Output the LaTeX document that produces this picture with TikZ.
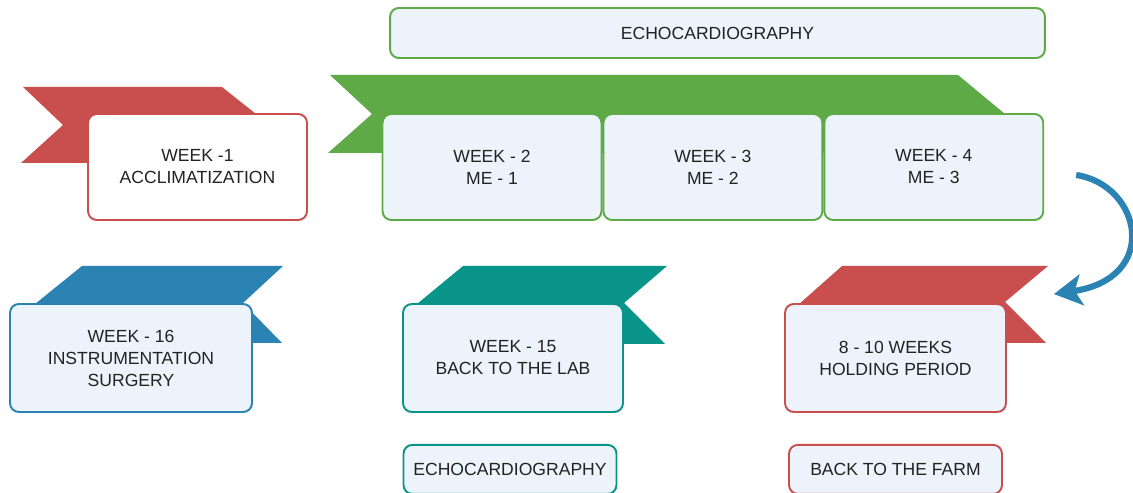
\documentclass[tikz,border=0pt]{standalone}
\usepackage{fontspec}
\setmainfont{Liberation Sans}
\usetikzlibrary{positioning,calc,arrows.meta}

\definecolor{ribred}{RGB}{201,79,79}
\definecolor{ribgreen}{RGB}{94,170,70}
\definecolor{ribblue}{RGB}{42,131,178}
\definecolor{ribteal}{RGB}{9,148,138}
\definecolor{boxfill}{RGB}{236,243,251}
\definecolor{txt}{RGB}{34,34,34}

\begin{document}
\begin{tikzpicture}[x=0.02cm, y=-0.02cm,
  box/.style={draw, line width=1.1pt, rounded corners=5pt, fill=boxfill, text=txt,
    align=center, inner sep=0pt, font=\fontsize{10}{12.5}\selectfont},
  weekbox/.style={box, minimum width=4.38cm, minimum height=2.12cm},
  lowbox/.style={box, minimum width=4.4cm, minimum height=2.16cm},
  tagbox/.style={box, minimum width=4.26cm, minimum height=0.98cm},
  arrowline/.style={draw=ribblue, line width=3.5pt,
    -{Stealth[length=0.56cm, width=0.62cm, inset=0.14cm]}}]
  \useasboundingbox (0,0) rectangle (1133,493);

  % Ribbons
  \fill [ribred] (23,87) -- (222,87) -- (256,114) -- (256,163) -- (21,163) -- (63,125) -- cycle;
  \fill [ribgreen] (330,75) -- (958,75) -- (1005,114) -- (1005,153) -- (328,153) -- (372,114) -- cycle;
  \fill [ribblue] (35,304) -- (82,266) -- (283,266) -- (243,303) -- (282,343) -- (200,343) -- (200,304) -- cycle;
  \fill [ribteal] (417,304) -- (463,266) -- (667,266) -- (624,303) -- (665,344) -- (560,344) -- (560,304) -- cycle;
  \fill [ribred] (798,305) -- (842,266) -- (1048,266) -- (1005,302) -- (1046,343) -- (900,343) -- (900,305) -- cycle;

  % Nodes
  \node [box, draw=ribgreen, minimum width=13.1cm, minimum height=1cm] (echotop) at (717.5,33) {ECHOCARDIOGRAPHY};
  \node [weekbox, draw=ribred, fill=white] (acclim) at (197.5,167) {WEEK -1\\ACCLIMATIZATION};
  \node [weekbox, draw=ribgreen] (wk2) at (492,167) {WEEK - 2\\ME - 1};
  \node [weekbox, draw=ribgreen, right=0pt of wk2] (wk3) {WEEK - 3\\ME - 2};
  \node [weekbox, draw=ribgreen, right=0pt of wk3] (wk4) {WEEK - 4\\ME - 3};

  \node [lowbox, draw=ribblue, minimum width=4.84cm] (surgery) at (131,358) {WEEK - 16\\INSTRUMENTATION\\SURGERY};
  \node [lowbox, draw=ribteal] (lab) at (513,358) {WEEK - 15\\BACK TO THE LAB};
  \node [lowbox, draw=ribred, minimum width=4.42cm] (holding) at (895.5,358) {8 - 10 WEEKS\\HOLDING PERIOD};

  \node [tagbox, draw=ribteal, below=0.62cm of lab, xshift=-0.06cm] (echobot) {ECHOCARDIOGRAPHY};
  \node [tagbox, draw=ribred, below=0.62cm of holding] (farm) {BACK TO THE FARM};

  % Arrow
  \coordinate (arrstart) at ($(wk4.east)+(32,8)$);
  \coordinate (arrend) at ($(holding.north east)+(47,-9)$);
  \draw [arrowline] (arrstart) .. controls +(65,10) and +(107,-16) .. (arrend);
\end{tikzpicture}
\end{document}
